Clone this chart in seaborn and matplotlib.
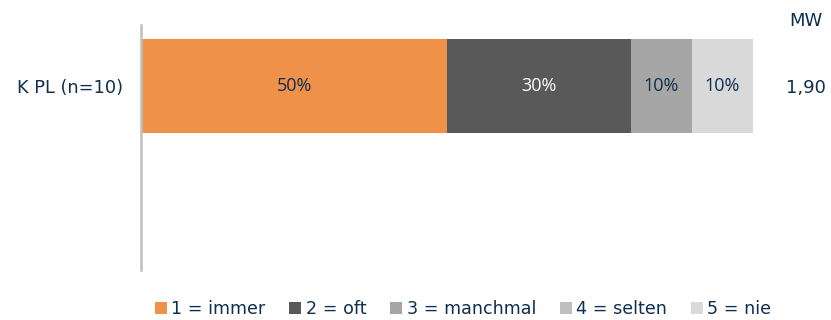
import pandas as pd
import numpy as np
import seaborn as sns
import matplotlib.pyplot as plt
from matplotlib.patches import Patch

# Daten
category = "K PL (n=10)"
answers = ["1 = immer", "2 = oft", "3 = manchmal", "4 = selten", "5 = nie"]
shares = [50, 30, 10, 0, 10]
colors = ["#F0914A", "#595959", "#A6A6A6", "#BFBFBF", "#D9D9D9"]
label_colors = ["#0E2F4F", "#FFFFFF", "#0E2F4F", "#0E2F4F", "#0E2F4F"]
mean_value = "1,90"

navy = "#0E2F4F"

sns.set_theme(style="white")
plt.rcParams['font.family'] = ['DejaVu Sans']

fig = plt.figure(figsize=(8.31, 3.2), dpi=100)
ax = fig.add_axes([141 / 831, 1 - 270 / 320, 612 / 831, 245 / 320])

# gestapelter Balken: kumulierte Summen von hinten nach vorne zeichnen
cum = np.cumsum(shares)
for i in range(len(answers) - 1, -1, -1):
    df = pd.DataFrame({"cat": [category], "val": [cum[i]]})
    sns.barplot(data=df, x="val", y="cat", color=colors[i], saturation=1,
                width=1.0, ax=ax, orient="h", linewidth=0)

# Prozentwerte in den Segmenten
left = 0
for s, lc in zip(shares, label_colors):
    if s > 0:
        ax.text(left + s / 2, 0, f"{s}%", ha="center", va="center",
                color=lc, fontsize=13, family="Open Sans")
    left += s

ax.set_xlim(0, 100)
ax.set_ylim(1.957, -0.649)
ax.set_xlabel("")
ax.set_ylabel("")
ax.set_xticks([])
ax.tick_params(axis="y", length=0, pad=13, labelsize=12.8, labelcolor=navy)
for side in ["top", "right", "bottom"]:
    ax.spines[side].set_visible(False)
ax.spines["left"].set_color("#BFBFBF")
ax.spines["left"].set_linewidth(1.8)

# Mittelwert
fig.text(806 / 831, 1 - 88 / 320, mean_value, ha="center", va="center",
         color=navy, fontsize=13)
fig.text(806 / 831, 1 - 21 / 320, "MW", ha="center", va="center",
         color=navy, fontsize=13)

# Legende
handles = [Patch(facecolor=c, edgecolor="none", label=a) for a, c in zip(answers, colors)]
fig.legend(handles=handles, loc="center", bbox_to_anchor=(463 / 831, 1 - 309 / 320),
           ncol=5, frameon=False, fontsize=12.6, labelcolor=navy,
           handlelength=0.7, handleheight=0.7, handletextpad=0.25,
           columnspacing=1.35, borderaxespad=0)

fig.savefig("out.png", dpi=100)
